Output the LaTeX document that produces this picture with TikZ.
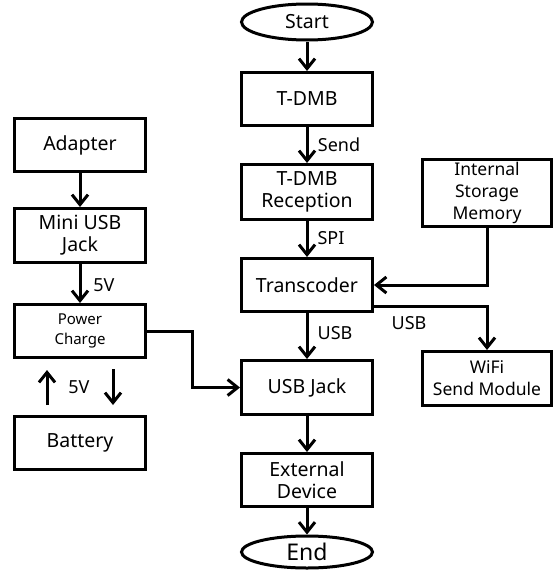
\documentclass[tikz,border=0pt]{standalone}
\usepackage{fontspec}
\setmainfont{Noto Sans}
\usetikzlibrary{arrows.meta,shapes.geometric,calc}
\begin{document}
\begin{tikzpicture}[x=1pt,y=-1pt,
  box/.style={draw,line width=3pt,rectangle,minimum width=131pt,inner sep=0pt,align=center,font=\fontsize{19.5}{22}\selectfont},
  sbox/.style={box,minimum width=129pt,font=\fontsize{17.5}{22}\selectfont},
  oval/.style={draw,line width=3pt,ellipse,minimum width=131pt,inner sep=0pt,font=\fontsize{19.5}{22}\selectfont},
  arr/.style={line width=3pt,-{Straight Barb[length=10pt,width=16pt,line width=3pt]}},
  lbl/.style={font=\fontsize{18}{20}\selectfont,inner sep=0pt}]
\useasboundingbox (0,0) rectangle (553,573);
% center column
\node[oval,minimum height=36pt] (start) at (307,22) {Start};
\node[box,minimum height=53pt] (tdmb) at (307,99) {T-DMB};
\node[box,minimum height=55pt] (rec) at (307,192) {T-DMB\\Reception};
\node[box,minimum height=53pt] (trans) at (307,285) {Transcoder};
\node[box,minimum height=54pt] (usbj) at (307,387.5) {USB Jack};
\node[box,minimum height=53pt] (ext) at (307,480) {External\\Device};
\node[oval,minimum height=32pt,font=\fontsize{23}{24}\selectfont] (end) at (307,552) {End};
% left column
\node[box,minimum height=53pt] (adap) at (80,145) {Adapter};
\node[box,minimum height=54pt] (mini) at (80,235.5) {Mini USB\\Jack};
\node[box,minimum height=53pt,font=\fontsize{15}{20}\selectfont] (pc) at (80,331) {Power\\Charge};
\node[box,minimum height=53pt] (bat) at (80,443) {Battery};
% right column
\node[sbox,minimum height=67pt] (mem) at (487,193) {Internal\\Storage\\Memory};
\node[sbox,minimum height=54pt] (wifi) at (487,378.5) {WiFi\\Send Module};
% connectors
\draw[arr] (start) -- (tdmb);
\draw[arr] (tdmb) -- (rec);
\draw[arr] (rec) -- (trans);
\draw[arr] (trans) -- (usbj);
\draw[arr] (usbj) -- (ext);
\draw[arr] (ext) -- (end);
\draw[arr] (adap) -- (mini);
\draw[arr] (mini) -- (pc);
\draw[arr] (pc.east) -- ++(45,0) |- (usbj.west);
\draw[arr] (mem.south) |- (trans.east);
\draw[arr] ([yshift=-21pt]trans.east) -| (wifi.north);
\coordinate (upA) at ($(bat.north)+(-33,-10)$);
\coordinate (upB) at ($(pc.south)+(-33,11)$);
\coordinate (dnA) at ($(pc.south)+(33,10)$);
\coordinate (dnB) at ($(bat.north)+(33,-10)$);
\draw[arr] (upA) -- (upB);
\draw[arr] (dnA) -- (dnB);
% labels
\node[lbl] (l1) at (339,145) {Send};
\node[lbl] (l2) at (331,238) {SPI};
\node[lbl] (l3) at (335,333) {USB};
\node[lbl] (l4) at (409,323) {USB};
\node[lbl] (l5) at (104,285) {5V};
\node[lbl] (l6) at (79,387) {5V};
\end{tikzpicture}
\end{document}
